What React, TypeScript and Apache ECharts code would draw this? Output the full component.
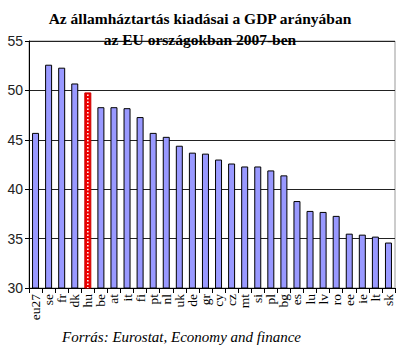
import React, { useEffect, useRef } from "react";
import * as echarts from "echarts";

const categories = ["eu27", "se", "fr", "dk", "hu", "be", "at", "it", "fi", "pt", "nl", "uk", "de", "gr", "cy", "cz", "mt", "si", "pl", "bg", "es", "lu", "lv", "ro", "ee", "ie", "lt", "sk"];
const values = [45.7, 52.6, 52.3, 50.7, 49.8, 48.3, 48.3, 48.2, 47.3, 45.7, 45.3, 44.4, 43.7, 43.6, 43.0, 42.6, 42.3, 42.3, 41.9, 41.4, 38.8, 37.8, 37.7, 37.3, 35.5, 35.4, 35.2, 34.6];
const highlight = "hu";
const titleText = "Az államháztartás kiadásai a GDP arányában\naz EU országokban 2007-ben";
const sourceText = "Forrás: Eurostat, Economy and finance";

export default function App() {
  const ref = useRef<HTMLDivElement>(null);
  useEffect(() => {
    document.body.style.margin = "0";
    if (!ref.current) return;
    const chart = echarts.init(ref.current, null, { renderer: "svg" });
    const hIdx = categories.indexOf(highlight);
    chart.setOption({
      animation: false,
      title: {
        text: titleText,
        left: "center",
        top: 3,
        textStyle: { fontFamily: "Liberation Serif", fontWeight: "bold", fontSize: 15.5, lineHeight: 21, color: "#000" },
      },
      grid: { left: 29, right: 5, top: 41, bottom: 64, show: true, borderColor: "#999", borderWidth: 1 },
      xAxis: {
        type: "category",
        data: categories,
        axisLine: { lineStyle: { color: "#000", width: 1 } },
        axisTick: { show: true, length: 5, lineStyle: { color: "#000" } },
        axisLabel: { rotate: 90, interval: 0, fontFamily: "Liberation Serif", fontSize: 13.5, color: "#000", margin: 6 },
      },
      yAxis: {
        type: "value",
        min: 30,
        max: 55,
        interval: 5,
        axisLine: { show: true, lineStyle: { color: "#000" } },
        axisTick: { show: true, length: 4, lineStyle: { color: "#000" } },
        axisLabel: { fontFamily: "Liberation Sans", fontSize: 14, color: "#222", margin: 6 },
        splitLine: { lineStyle: { color: "#222", width: 1 } },
      },
      series: [
        {
          type: "bar",
          barWidth: 7,
          data: values.map((v, i) =>
            i === hIdx
              ? { value: v, itemStyle: { color: "#ee0000", borderColor: "#cc0000", borderWidth: 1 } }
              : v
          ),
          itemStyle: { color: "#9999ff", borderColor: "#000", borderWidth: 1 },
        },
        {
          type: "custom",
          coordinateSystem: "cartesian2d",
          data: [[hIdx, values[hIdx]]],
          renderItem: (params: any, api: any) => {
            const top = api.coord([api.value(0), api.value(1)]);
            const bottom = api.coord([api.value(0), 30]);
            return {
              type: "line",
              shape: { x1: top[0], y1: top[1] + 2, x2: bottom[0], y2: bottom[1] },
              style: { stroke: "#fff", lineWidth: 1.5, lineDash: [1.5, 2] },
            };
          },
          z: 5,
        },
      ],
      graphic: [
        {
          type: "text",
          left: 62,
          top: 329,
          style: { text: sourceText, fontFamily: "Liberation Serif", fontStyle: "italic", fontSize: 15, fill: "#000" },
        },
      ],
    });
    return () => chart.dispose();
  }, []);
  return <div ref={ref} style={{ width: 400, height: 352 }} />;
}
